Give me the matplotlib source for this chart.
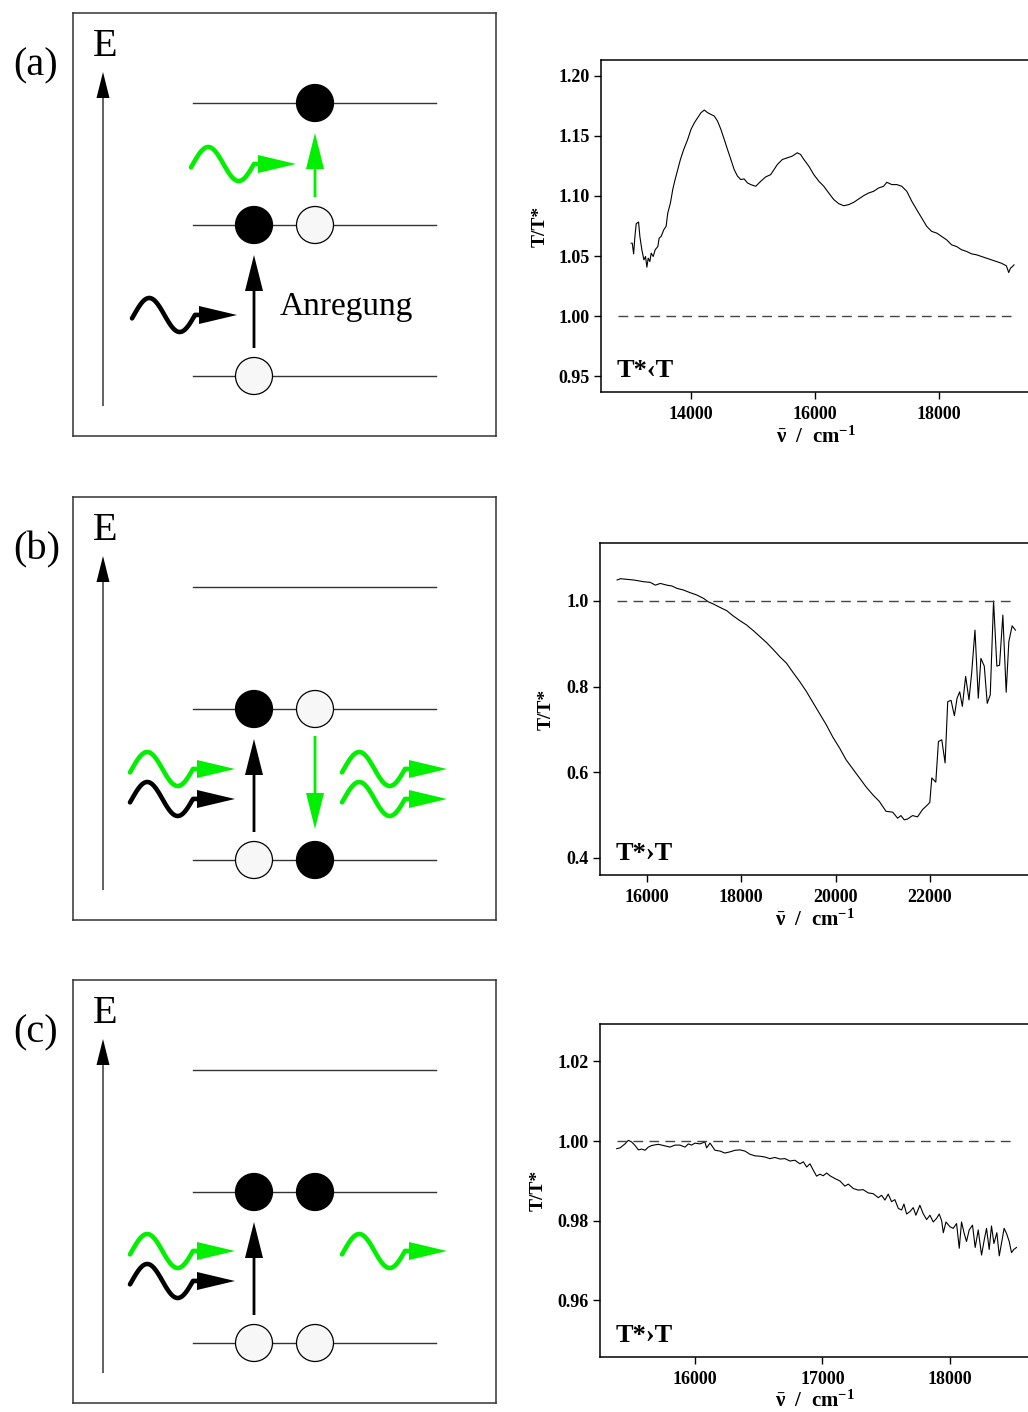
"""Level schemes (a)-(c) with the matching T/T* transmission spectra."""

import matplotlib.pyplot as plt
import numpy as np
from matplotlib.patches import Circle, Polygon

plt.rcParams['font.family'] = ['Liberation Serif', 'DejaVu Serif']
plt.rcParams['mathtext.fontset'] = 'custom'
plt.rcParams['mathtext.rm'] = 'Liberation Serif:bold'
plt.rcParams['mathtext.it'] = 'Liberation Serif:bold'
plt.rcParams['mathtext.bf'] = 'Liberation Serif:bold'

GREEN = '#00f000'
FIG_W, FIG_H = 1028, 1412

# spectrum (a), T* < T
WN_A = [13036, 13052, 13074, 13095, 13116, 13154, 13175, 13207, 13240, 13266,
        13288, 13309, 13336, 13357, 13390, 13422, 13465, 13486, 13518, 13561,
        13598, 13625, 13668, 13705, 13743, 13786, 13829, 13882, 13946, 14000,
        14054, 14107, 14161, 14214, 14268, 14321, 14375, 14428, 14482, 14536,
        14589, 14643, 14696, 14750, 14803, 14857, 14910, 14964, 15044, 15125,
        15205, 15285, 15339, 15392, 15473, 15553, 15633, 15714, 15767, 15821,
        15901, 15981, 16062, 16142, 16222, 16303, 16383, 16463, 16544, 16624,
        16704, 16785, 16865, 16945, 17026, 17106, 17159, 17240, 17320, 17400,
        17481, 17561, 17641, 17722, 17802, 17882, 17963, 18043, 18123, 18204,
        18284, 18364, 18445, 18525, 18605, 18686, 18766, 18846, 18927, 19007,
        19087, 19125, 19152, 19184, 19210]
TT_A = [1.0607, 1.0607, 1.0518, 1.0663, 1.0769, 1.0783, 1.0663, 1.0552, 1.0468, 1.0496,
        1.0407, 1.0482, 1.0454, 1.0524, 1.0496, 1.0552, 1.0579, 1.0649, 1.0663, 1.0719,
        1.0747, 1.0858, 1.0942, 1.1053, 1.1137, 1.1220, 1.1304, 1.1387, 1.1471, 1.1555,
        1.1610, 1.1652, 1.1694, 1.1716, 1.1694, 1.1680, 1.1666, 1.1624, 1.1555, 1.1471,
        1.1387, 1.1304, 1.1220, 1.1165, 1.1137, 1.1142, 1.1109, 1.1095, 1.1081, 1.1123,
        1.1159, 1.1178, 1.1220, 1.1262, 1.1304, 1.1318, 1.1332, 1.1360, 1.1346, 1.1304,
        1.1248, 1.1178, 1.1123, 1.1081, 1.1025, 1.0970, 1.0936, 1.0919, 1.0928, 1.0947,
        1.0975, 1.1003, 1.1025, 1.1039, 1.1067, 1.1081, 1.1114, 1.1095, 1.1095, 1.1081,
        1.1039, 1.0956, 1.0886, 1.0816, 1.0747, 1.0705, 1.0691, 1.0663, 1.0635, 1.0593,
        1.0579, 1.0552, 1.0538, 1.0518, 1.0510, 1.0496, 1.0482, 1.0468, 1.0454, 1.0440,
        1.0418, 1.0362, 1.0398, 1.0412, 1.0426]

# spectrum (b), T* > T
WN_B = [15366, 15437, 15578, 15718, 15824, 15930, 16070, 16176, 16282, 16422,
        16528, 16634, 16774, 16915, 17056, 17197, 17302, 17408, 17549, 17690,
        17830, 17971, 18112, 18253, 18394, 18534, 18675, 18816, 18957, 19098,
        19238, 19379, 19520, 19661, 19802, 19942, 20083, 20224, 20365, 20506,
        20646, 20787, 20928, 21069, 21210, 21315, 21386, 21456, 21526, 21632,
        21738, 21843, 21949, 21998, 22040, 22125, 22181, 22252, 22322, 22378,
        22449, 22519, 22576, 22632, 22688, 22758, 22829, 22885, 22956, 23026,
        23082, 23153, 23216, 23280, 23350, 23420, 23477, 23547, 23618, 23674,
        23744, 23814]
TT_B = [1.049, 1.052, 1.0505, 1.049, 1.047, 1.045, 1.0435, 1.037, 1.041, 1.037,
        1.035, 1.0295, 1.0256, 1.0194, 1.014, 1.0062, 0.998, 0.993, 0.985, 0.9775,
        0.965, 0.954, 0.944, 0.931, 0.917, 0.903, 0.887, 0.870, 0.855, 0.833,
        0.812, 0.789, 0.763, 0.737, 0.711, 0.682, 0.657, 0.629, 0.608, 0.587,
        0.566, 0.548, 0.532, 0.509, 0.507, 0.493, 0.499, 0.489, 0.491, 0.499,
        0.496, 0.513, 0.524, 0.530, 0.587, 0.577, 0.672, 0.676, 0.622, 0.765,
        0.768, 0.732, 0.773, 0.788, 0.754, 0.824, 0.769, 0.831, 0.932, 0.773,
        0.866, 0.848, 0.761, 0.781, 1.000, 0.848, 0.850, 0.967, 0.787, 0.905,
        0.942, 0.932]

# spectrum (c), T* > T
WN_C = [15386, 15412, 15451, 15477, 15503, 15530, 15556, 15582, 15608, 15634,
        15660, 15712, 15752, 15804, 15843, 15882, 15922, 15948, 15974, 16000,
        16039, 16078, 16091, 16118, 16157, 16196, 16235, 16274, 16314, 16353,
        16392, 16431, 16471, 16510, 16549, 16588, 16627, 16667, 16706, 16745,
        16784, 16823, 16850, 16876, 16902, 16928, 16954, 16980, 17006, 17033,
        17059, 17098, 17137, 17176, 17203, 17242, 17281, 17320, 17359, 17398,
        17438, 17464, 17490, 17516, 17542, 17568, 17595, 17621, 17639, 17660,
        17686, 17712, 17733, 17764, 17790, 17817, 17843, 17869, 17895, 17916,
        17935, 17948, 17969, 18000, 18026, 18052, 18073, 18091, 18112, 18130,
        18151, 18177, 18198, 18222, 18248, 18269, 18287, 18308, 18326, 18345,
        18368, 18387, 18404, 18425, 18444, 18465, 18483, 18501, 18522]
TT_C = [0.9981, 0.9983, 0.9993, 1.0002, 0.9998, 0.9989, 0.9978, 0.9980, 0.9977, 0.9985,
        0.9989, 0.9992, 0.9989, 0.9985, 0.9990, 0.9990, 0.9985, 0.9993, 0.9990, 0.9995,
        0.9993, 0.9998, 0.9983, 0.9995, 0.9977, 0.9975, 0.9970, 0.9973, 0.9977, 0.9978,
        0.9975, 0.9967, 0.9963, 0.9962, 0.9960, 0.9956, 0.9959, 0.9955, 0.9956, 0.9950,
        0.9952, 0.9943, 0.9948, 0.9935, 0.9943, 0.9927, 0.9912, 0.9917, 0.9913, 0.9920,
        0.9913, 0.9906, 0.9900, 0.9887, 0.9892, 0.9881, 0.9877, 0.9878, 0.9870, 0.9868,
        0.9858, 0.9864, 0.9852, 0.9867, 0.9848, 0.9853, 0.9831, 0.9827, 0.9842, 0.9817,
        0.9823, 0.9833, 0.9814, 0.9839, 0.9818, 0.9803, 0.9814, 0.9797, 0.9806, 0.9817,
        0.9800, 0.9770, 0.9797, 0.9785, 0.9781, 0.9793, 0.9731, 0.9797, 0.9768, 0.9748,
        0.9777, 0.9789, 0.9733, 0.9777, 0.9714, 0.9752, 0.9781, 0.9728, 0.9787, 0.9743,
        0.9770, 0.9712, 0.9743, 0.9781, 0.9768, 0.9748, 0.9720, 0.9728, 0.9733]

PANEL_LABELS = ['(a)', '(b)', '(c)']
CORNER_LABELS = ['T*\u2039T', 'T*\u203aT', 'T*\u203aT']

# level schemes: (level, column, filled) for each electron
OCCUPANCY = [
    [(2, 1, True), (1, 0, True), (1, 1, False), (0, 0, False)],
    [(1, 0, True), (1, 1, False), (0, 0, False), (0, 1, True)],
    [(1, 0, True), (1, 1, True), (0, 0, False), (0, 1, False)],
]
# vertical transitions: (column, from level, to level, colour)
TRANSITIONS = [
    [(0, 0, 1, 'black'), (1, 1, 2, GREEN)],
    [(0, 0, 1, 'black'), (1, 1, 0, GREEN)],
    [(0, 0, 1, 'black')],
]
# photons: (x start, y centre, colour) in box pixels
PHOTONS = [
    [(59, 302, 'black'), (118, 151, GREEN)],
    [(57, 272, GREEN), (57, 302, 'black'), (269, 272, GREEN), (269, 302, GREEN)],
    [(57, 271, GREEN), (57, 301, 'black'), (269, 271, GREEN)],
]

LEVEL_Y = [363, 212, 90]
COLUMN_X = [181, 242]
BOX_TOPS = [13, 497, 980]
BOX_SIZE = 423

# spectrum axes: pixel placement, limits and ticks
SPEC_AXES = [
    dict(left=601, top=60, bottom=392, xlim=(12548, 19468), ylim=(0.9367, 1.2133),
         xticks=[14000, 16000, 18000], yticks=[0.95, 1.00, 1.05, 1.10, 1.15, 1.20],
         fmt='{:.2f}', ylab_x=-0.121, xlab_y=-0.105, dash_from=12822),
    dict(left=600, top=543, bottom=875, xlim=(15003, 24123), ylim=(0.3603, 1.1354),
         xticks=[16000, 18000, 20000, 22000], yticks=[0.4, 0.6, 0.8, 1.0],
         fmt='{:.1f}', ylab_x=-0.105, xlab_y=-0.105, dash_from=15366),
    dict(left=600, top=1024, bottom=1357, xlim=(15255, 18628), ylim=(0.9458, 1.0294),
         xticks=[16000, 17000, 18000], yticks=[0.96, 0.98, 1.00, 1.02],
         fmt='{:.2f}', ylab_x=-0.123, xlab_y=-0.100, dash_from=15386),
]
SPECTRA = [(WN_A, TT_A), (WN_B, TT_B), (WN_C, TT_C)]


def px_axes(fig, left, top, width, height):
    """Adds an axes placed in pixel units measured from the top left."""
    return fig.add_axes([left / FIG_W, 1 - (top + height) / FIG_H,
                         width / FIG_W, height / FIG_H])


def draw_photon(ax, x0, yc, color):
    """Draws a wavy photon with a triangular head."""
    t = np.linspace(0, 63, 90)
    y = yc - 17 * np.sin(2 * np.pi * t / 61 - 0.2)
    ax.plot(np.r_[x0 + t, x0 + 70], np.r_[y, yc], color=color, lw=3.3,
            solid_capstyle='round', solid_joinstyle='round')
    ax.add_patch(Polygon([(x0 + 67, yc - 9), (x0 + 105, yc), (x0 + 67, yc + 9)],
                         closed=True, fc=color, ec='none'))


def draw_scheme(ax, index):
    """Draws one energy level scheme inside its frame."""
    ax.set_xlim(0, BOX_SIZE)
    ax.set_ylim(BOX_SIZE, 0)
    ax.set_xticks([])
    ax.set_yticks([])
    for spine in ax.spines.values():
        spine.set_color('#333333')
        spine.set_linewidth(1.1)

    ax.text(32, 43, 'E', fontsize=29, ha='center', va='baseline')
    ax.text(-60, 62, PANEL_LABELS[index], fontsize=29, ha='left',
            va='baseline', clip_on=False)
    ax.arrow(30, 393, 0, -334, width=1.2, head_width=13, head_length=26,
             length_includes_head=True, fc='black', ec='none')

    for y in LEVEL_Y:
        ax.plot([120, 363], [y, y], color='#333333', lw=1.0, zorder=1)

    for level, col, filled in OCCUPANCY[index]:
        ax.add_patch(Circle((COLUMN_X[col], LEVEL_Y[level]), 18.5,
                            fc='black' if filled else '#f7f7f7',
                            ec='black', lw=0.9, zorder=3))

    for col, lo, hi, color in TRANSITIONS[index]:
        x = COLUMN_X[col]
        if hi > lo:
            y0, y1 = LEVEL_Y[lo] - 28, LEVEL_Y[hi] + 30
        else:
            y0, y1 = LEVEL_Y[lo] + 27, LEVEL_Y[hi] - 31
        ax.arrow(x, y0, 0, y1 - y0, width=2.8, head_width=18,
                 head_length=36, length_includes_head=True, fc=color, ec='none')

    for x0, yc, color in PHOTONS[index]:
        draw_photon(ax, x0, yc, color)

    if index == 0:
        ax.text(207, 302, 'Anregung', fontsize=24, ha='left', va='baseline')


def draw_spectrum(ax, index):
    """Draws one T/T* spectrum with its reference line."""
    cfg = SPEC_AXES[index]
    wn, tt = SPECTRA[index]
    ax.plot(wn, tt, color='black', lw=0.8)
    ax.plot([cfg['dash_from'], wn[-1]], [1.0, 1.0], color='#444444', lw=1.0,
            dashes=(7, 4.5))
    ax.set_xlim(cfg['xlim'])
    ax.set_ylim(cfg['ylim'])
    ax.set_xticks(cfg['xticks'])
    ax.set_xticklabels([str(v) for v in cfg['xticks']])
    ax.set_yticks(cfg['yticks'])
    ax.set_yticklabels([cfg['fmt'].format(v) for v in cfg['yticks']])
    ax.spines['right'].set_visible(False)
    for spine in ax.spines.values():
        spine.set_linewidth(1.1)
    ax.tick_params(direction='out', length=5, width=1.0, labelsize=13, pad=3)
    ax.tick_params(axis='x', pad=5)
    for lab in ax.get_xticklabels() + ax.get_yticklabels():
        lab.set_fontweight('bold')
    ax.set_xlabel(r'$\bar{\nu}$  /  cm$^{-1}$', fontsize=15, fontweight='bold')
    ax.set_ylabel('T/T*', fontsize=14, fontweight='bold')
    ax.yaxis.set_label_coords(cfg['ylab_x'], 0.5)
    ax.xaxis.set_label_coords(0.5, cfg['xlab_y'])
    height = cfg['bottom'] - cfg['top']
    ax.text(16 / 429, 15 / height, CORNER_LABELS[index], transform=ax.transAxes,
            fontsize=19, fontweight='bold', ha='left', va='baseline')


def make_figure():
    """Builds the full figure and writes it to out.png."""
    fig = plt.figure(figsize=(FIG_W / 100, FIG_H / 100), dpi=100)
    for i, top in enumerate(BOX_TOPS):
        draw_scheme(px_axes(fig, 73, top, BOX_SIZE, BOX_SIZE), i)
        cfg = SPEC_AXES[i]
        ax = px_axes(fig, cfg['left'], cfg['top'], 1030 - cfg['left'],
                     cfg['bottom'] - cfg['top'])
        draw_spectrum(ax, i)
    fig.savefig('out.png', dpi=100)


if __name__ == '__main__':
    make_figure()
